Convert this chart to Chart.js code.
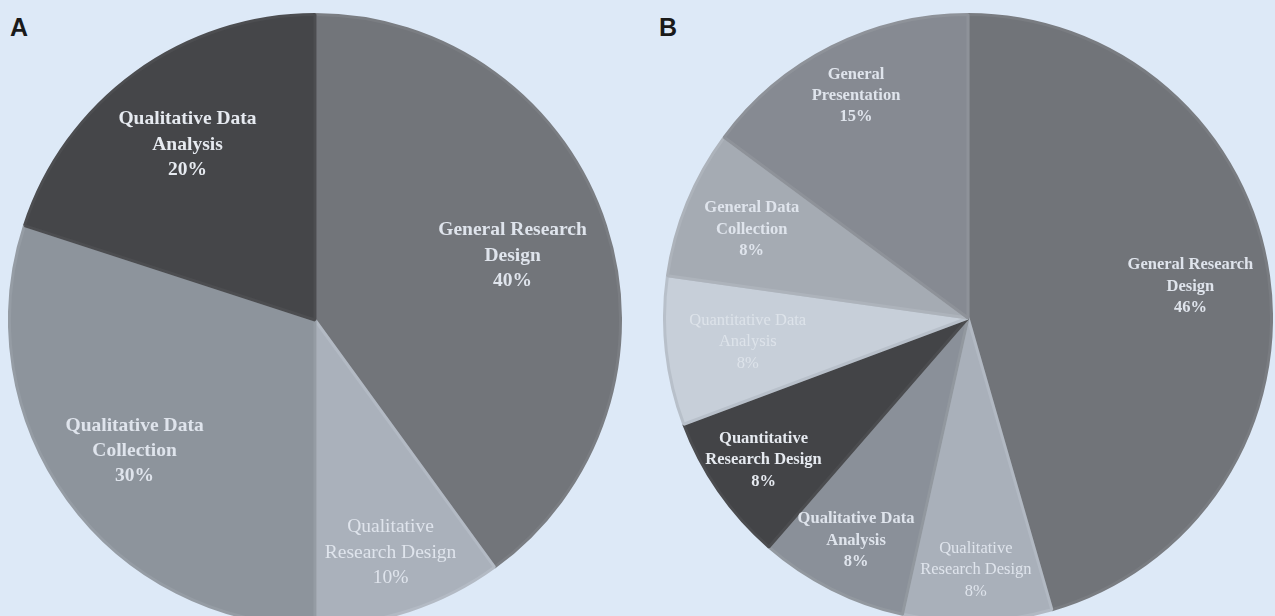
<!DOCTYPE html>
<html>
<head>
<meta charset="utf-8">
<script src="https://cdn.jsdelivr.net/npm/chart.js@4.4.1/dist/chart.umd.min.js"></script>
<style>
  html, body { margin: 0; padding: 0; }
  body { width: 1275px; height: 616px; background: #dde9f7; position: relative; overflow: hidden; }
  .panel { position: absolute; font-family: "Liberation Sans", Arial, sans-serif; font-weight: bold; font-size: 25px; color: #1a1a1a; }
  .pie { position: absolute; }
</style>
</head>
<body>
<div class="panel" style="left:10px; top:13px;">A</div>
<div class="panel" style="left:659px; top:13px;">B</div>
<div class="pie" style="left:8px; top:13px; width:614px; height:614px;"><canvas id="pieA" width="614" height="614"></canvas></div>
<div class="pie" style="left:663px; top:13px; width:610px; height:610px;"><canvas id="pieB" width="610" height="610"></canvas></div>
<script>
// panel A
const categoriesA = ['General Research Design', 'Qualitative Research Design', 'Qualitative Data Collection', 'Qualitative Data Analysis'];
const valuesA = [40, 10, 30, 20];
const labelsA = [['General Research', 'Design'], ['Qualitative', 'Research Design'], ['Qualitative Data', 'Collection'], ['Qualitative Data', 'Analysis']];

// panel B
const categoriesB = ['General Research Design', 'Qualitative Research Design', 'Qualitative Data Analysis', 'Quantitative Research Design', 'Quantitative Data Analysis', 'General Data Collection', 'General Presentation'];
const valuesB = [46, 8, 8, 8, 8, 8, 15];
const labelsB = [['General Research', 'Design'], ['Qualitative', 'Research Design'], ['Qualitative Data', 'Analysis'], ['Quantitative', 'Research Design'], ['Quantitative Data', 'Analysis'], ['General Data', 'Collection'], ['General', 'Presentation']];

// styles
const colorsA = ['#72757a', '#aab1bb', '#8d949c', '#454649'];
const bordersA = ['#7a7d82', '#b3bac4', '#959ca4', '#4c4d50'];
const colorsB = ['#717479', '#a9b0ba', '#8a9099', '#434447', '#c7cfd9', '#a5abb3', '#868a92'];
const bordersB = ['#797c81', '#b2b9c3', '#92989f', '#4b4c4f', '#b8c0ca', '#adb3bb', '#8e9299'];

// label placement (fraction of radius) and look for each slice
const fracA = [0.68, 0.8, 0.73, 0.71];
const boldA = [true, false, true, true];
const fracB = [0.74, 0.83, 0.82, 0.82, 0.73, 0.77, 0.82];
const boldB = [true, false, true, true, false, true, true];

const sliceLabels = {
    id: 'sliceLabels',
    afterDatasetsDraw(chart, args, opts) {
        const ctx = chart.ctx;
        const meta = chart.getDatasetMeta(0);
        const values = chart.data.datasets[0].data;
        ctx.save();
        ctx.textAlign = 'center';
        ctx.textBaseline = 'middle';
        meta.data.forEach((arc, i) => {
            const p = arc.getProps(['x', 'y', 'startAngle', 'endAngle', 'outerRadius'], true);
            const mid = (p.startAngle + p.endAngle) / 2;
            const r = p.outerRadius * opts.frac[i];
            const cx = p.x + Math.cos(mid) * r;
            const cy = p.y + Math.sin(mid) * r;
            const lines = opts.lines[i].concat([values[i] + '%']);
            const lh = opts.size * 1.3;
            ctx.font = (opts.bold[i] ? 'bold ' : '') + opts.size + 'px "Liberation Serif", "DejaVu Serif", serif';
            ctx.fillStyle = opts.text[i] || '#dfe4ec';
            lines.forEach((t, k) => {
                ctx.fillText(t, cx, cy + (k - (lines.length - 1) / 2) * lh);
            });
        });
        ctx.restore();
    }
};

function makePie(id, cats, vals, colors, borders, labelOpts) {
    return new Chart(document.getElementById(id), {
        type: 'pie',
        data: {
            labels: cats,
            datasets: [{
                data: vals,
                backgroundColor: colors,
                borderColor: borders,
                borderWidth: 3
            }]
        },
        options: {
            responsive: false,
            animation: false,
            layout: { padding: 0 },
            plugins: {
                legend: { display: false },
                tooltip: { enabled: false },
                sliceLabels: labelOpts
            }
        },
        plugins: [sliceLabels]
    });
}

makePie('pieA', categoriesA, valuesA, colorsA, bordersA, {
    lines: labelsA, frac: fracA, bold: boldA, size: 19.5,
    text: ['#dfe4ec', '#dfe4ec', '#dfe4ec', '#e6eaf0']
});
makePie('pieB', categoriesB, valuesB, colorsB, bordersB, {
    lines: labelsB, frac: fracB, bold: boldB, size: 16.5,
    text: ['#dfe4ec', '#dfe4ec', '#dfe4ec', '#e6eaf0', '#dde3ea', '#dfe4ec', '#dfe4ec']
});
</script>
</body>
</html>
